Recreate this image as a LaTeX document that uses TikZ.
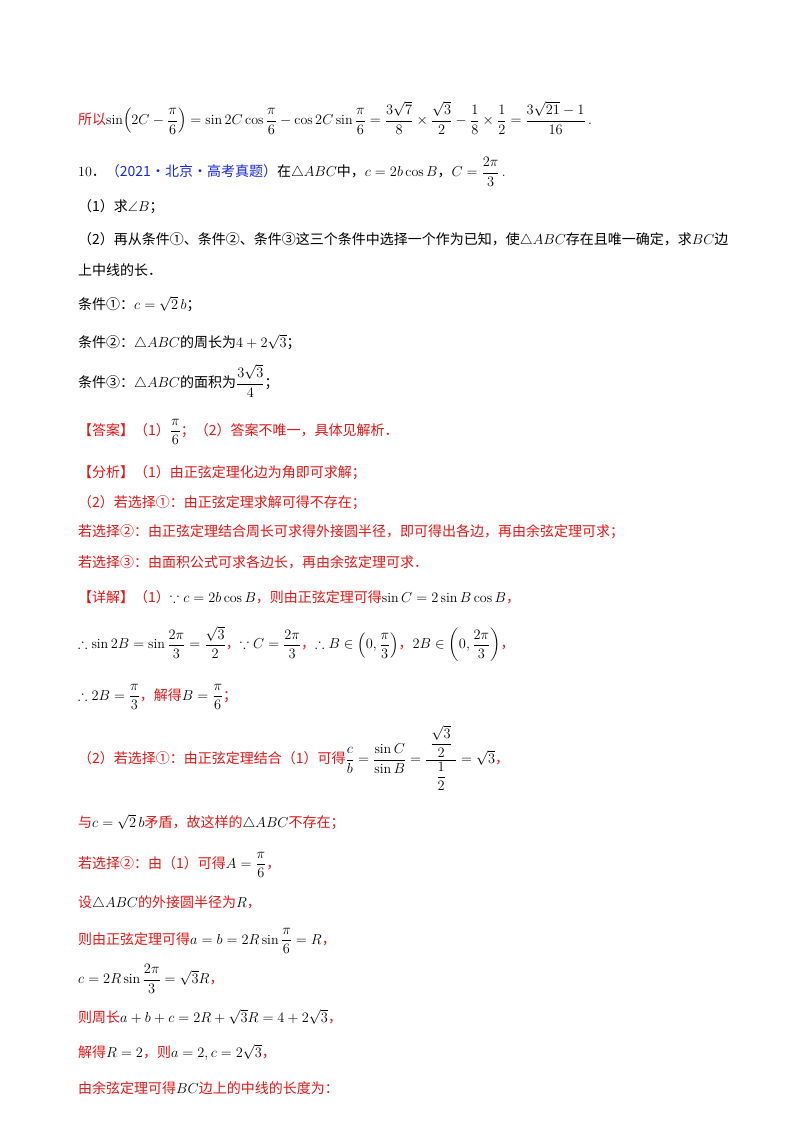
\documentclass[tikz,border=0pt]{standalone}
\usepackage{amsmath,amssymb}
\usepackage{fontspec}
\newfontfamily\cjk{Noto Sans CJK SC}
\definecolor{ansred}{RGB}{230,20,20}
\definecolor{srcblue}{RGB}{20,40,230}
\newcommand\hz[1]{{\cjk\color{ansred}#1}}
\newcommand\zh[1]{{\cjk #1}}
\tikzset{txt/.style={anchor=west,inner sep=0pt,font=\fontsize{14}{17}\selectfont}}
\begin{document}
\begin{tikzpicture}[x=1pt,y=1pt]
   \useasboundingbox (0,0) rectangle (800,-1132);
   \node[txt] (l1) at (78,-118) {\hz{所以}$\sin\!\left(2C-\dfrac{\pi}{6}\right)=\sin 2C\cos\dfrac{\pi}{6}-\cos 2C\sin\dfrac{\pi}{6}=\dfrac{3\sqrt7}{8}\times\dfrac{\sqrt3}{2}-\dfrac18\times\dfrac12=\dfrac{3\sqrt{21}-1}{16}$\,.};
   \node[txt] (l2) at (78,-172) {10\zh{．}{\cjk\color{srcblue}（2021·北京·高考真题）}\zh{在}$\triangle ABC$\zh{中，}$c=2b\cos B$\zh{，}$C=\dfrac{2\pi}{3}$\,.};
   \node[txt] (l3) at (78,-207) {\zh{（1）求}$\angle B$\zh{；}};
   \node[txt] (l4) at (78,-240) {\zh{（2）再从条件①、条件②、条件③这三个条件中选择一个作为已知，使}$\triangle ABC$\zh{存在且唯一确定，求}$BC$\zh{边}};
   \node[txt] (l5) at (78,-270) {\zh{上中线的长．}};
   \node[txt] (l6) at (78,-304) {\zh{条件①：}$c=\sqrt2\,b$\zh{；}};
   \node[txt] (l7) at (78,-342) {\zh{条件②：}$\triangle ABC$\zh{的周长为}$4+2\sqrt3$\zh{；}};
   \node[txt] (l8) at (78,-381) {\zh{条件③：}$\triangle ABC$\zh{的面积为}$\dfrac{3\sqrt3}{4}$\zh{；}};
   \node[txt] (l9) at (78,-432) {\hz{【答案】（1）}$\dfrac{\pi}{6}$\hz{；（2）答案不唯一，具体见解析．}};
   \node[txt] (l10) at (78,-473) {\hz{【分析】（1）由正弦定理化边为角即可求解；}};
   \node[txt] (l11) at (78,-503) {\hz{（2）若选择①：由正弦定理求解可得不存在；}};
   \node[txt] (l12) at (78,-532) {\hz{若选择②：由正弦定理结合周长可求得外接圆半径，即可得出各边，再由余弦定理可求；}};
   \node[txt] (l13) at (78,-562) {\hz{若选择③：由面积公式可求各边长，再由余弦定理可求．}};
   \node[txt] (l14) at (78,-597) {\hz{【详解】（1）}$\because c=2b\cos B$\hz{，则由正弦定理可得}$\sin C=2\sin B\cos B$\hz{，}};
   \node[txt] (l15) at (78,-644) {$\therefore\sin 2B=\sin\dfrac{2\pi}{3}=\dfrac{\sqrt3}{2}$\hz{，}$\because C=\dfrac{2\pi}{3}$\hz{，}$\therefore B\in\left(0,\dfrac{\pi}{3}\right)$\hz{，}$2B\in\left(0,\dfrac{2\pi}{3}\right)$\hz{，}};
   \node[txt] (l16) at (78,-697) {$\therefore 2B=\dfrac{\pi}{3}$\hz{，解得}$B=\dfrac{\pi}{6}$\hz{；}};
   \node[txt] (l17) at (78,-758) {\hz{（2）若选择①：由正弦定理结合（1）可得}$\dfrac{c}{b}=\dfrac{\sin C}{\sin B}=\dfrac{\;\dfrac{\sqrt3}{2}\;}{\dfrac12}=\sqrt3$\hz{，}};
   \node[txt] (l18) at (78,-822) {\hz{与}$c=\sqrt2\,b$\hz{矛盾，故这样的}$\triangle ABC$\hz{不存在；}};
   \node[txt] (l19) at (78,-865) {\hz{若选择②：由（1）可得}$A=\dfrac{\pi}{6}$\hz{，}};
   \node[txt] (l20) at (78,-903) {\hz{设}$\triangle ABC$\hz{的外接圆半径为}$R$\hz{，}};
   \node[txt] (l21) at (78,-941) {\hz{则由正弦定理可得}$a=b=2R\sin\dfrac{\pi}{6}=R$\hz{，}};
   \node[txt] (l22) at (78,-979) {$c=2R\sin\dfrac{2\pi}{3}=\sqrt3R$\hz{，}};
   \node[txt] (l23) at (78,-1017) {\hz{则周长}$a+b+c=2R+\sqrt3R=4+2\sqrt3$\hz{，}};
   \node[txt] (l24) at (78,-1052) {\hz{解得}$R=2$\hz{，则}$a=2,c=2\sqrt3$\hz{，}};
   \node[txt] (l25) at (78,-1088) {\hz{由余弦定理可得}$BC$\hz{边上的中线的长度为：}};
\end{tikzpicture}
\end{document}
